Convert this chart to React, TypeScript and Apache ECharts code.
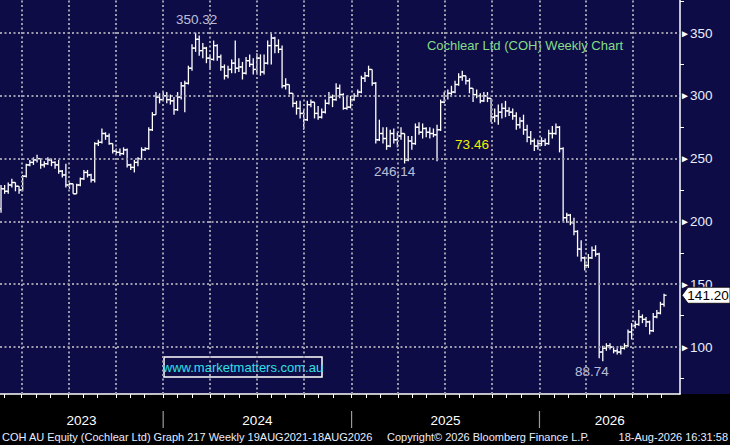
import { useEffect, useRef } from "react";
import * as echarts from "echarts";

const DAY = 86400000;
const FIRST_WEEK = Date.UTC(2023, 1, 20);
const AXIS_MIN = Date.UTC(2023, 1, 18);
const AXIS_MAX = Date.UTC(2026, 9, 1);
const PRICE_MIN = 62.6;
const PRICE_MAX = 376.3;

const opens = [
  210, 226, 224, 229, 231, 228, 225, 236, 245, 247,
  249, 250, 245, 246, 249, 247, 245, 240, 237, 229,
  230, 222, 229, 234, 239, 237, 233, 262, 263, 270,
  268, 262, 256, 255, 254, 257, 245, 243, 247, 250,
  257, 258, 273, 285, 299, 297, 300, 297, 296, 289,
  299, 308, 310, 322, 338, 345, 336, 338, 330, 329,
  340, 331, 323, 316, 321, 326, 322, 323, 318, 328,
  325, 321, 330, 319, 326, 340, 346, 340, 337, 308,
  309, 302, 294, 290, 286, 281, 293, 295, 286, 283,
  287, 294, 299, 297, 306, 301, 290, 291, 297, 300,
  303, 314, 316, 321, 310, 265, 270, 266, 260, 270,
  265, 268, 270, 249, 264, 262, 275, 271, 274, 271,
  270, 269, 273, 295, 300, 302, 303, 309, 315, 316,
  312, 306, 301, 300, 296, 300, 298, 283, 284, 287,
  290, 288, 287, 284, 277, 280, 273, 267, 264, 260,
  262, 264, 262, 270, 270, 275, 258, 203, 205, 199,
  192, 178, 171, 165, 171, 177, 174, 96, 99, 101,
  100, 97, 96, 99, 101, 112, 117, 118, 124, 122,
  120, 113, 124, 127, 134,
];
const highs = [
  229, 229, 231, 234, 231, 228, 237, 246, 249, 251,
  253, 250, 248, 251, 250, 248, 249, 241, 246, 231,
  230, 230, 235, 241, 241, 238, 263, 265, 274, 271,
  270, 262, 258, 258, 259, 258, 246, 249, 251, 259,
  259, 275, 287, 303, 302, 303, 303, 301, 299, 303,
  311, 312, 324, 341, 350.32, 348, 342, 339, 333, 344,
  341, 333, 325, 324, 329, 344, 330, 327, 331, 333,
  330, 334, 333, 333, 344, 349.5, 347, 345, 340, 314,
  309, 302, 296, 296, 289, 296, 297, 295, 292, 290,
  297, 303, 301, 310, 309, 302, 300, 300, 302, 305,
  316, 319, 324, 321, 311, 281, 275, 275, 273, 274,
  271, 275, 270, 268, 268, 278, 279, 278, 275, 275,
  274, 277, 297, 303, 305, 308, 312, 318, 320, 316,
  314, 306, 305, 302, 303, 303, 298, 290, 293, 294,
  296, 291, 290, 287, 283, 285, 277, 272, 266, 265,
  267, 266, 273, 276, 278, 276, 259, 207, 206, 203,
  193, 185, 172, 174, 180, 181, 175, 101, 103, 103,
  100, 99, 101, 103, 114, 119, 121, 129.5, 126, 124,
  121, 127, 129.5, 136, 142.5,
];
const lows = [
  207, 222, 222, 227, 224, 222, 224, 235, 244, 245,
  247, 242, 243, 245, 244, 242, 238, 235, 227, 226,
  222, 222, 228, 233, 235, 231, 231, 260, 262, 265,
  261, 254, 253, 252, 253, 243, 241, 239, 244, 249,
  256, 257, 272, 285, 294, 296, 294, 293, 285, 288,
  297, 287, 309, 320, 335, 332, 330, 326, 322, 328,
  328, 320, 313, 314, 318, 318, 319, 313, 317, 323,
  317, 317, 316, 317, 325, 325, 334, 334, 306, 305,
  301, 291, 285, 282, 273, 280, 291, 282, 281, 282,
  286, 293, 291, 296, 298, 289, 289, 290, 296, 299,
  302, 311, 315, 308, 262, 264, 262, 257, 259, 262,
  259, 265, 246.14, 248, 257, 261, 269, 266, 267, 266,
  267, 248, 272, 294, 297, 299, 302, 308, 312, 309,
  302, 295, 298, 294, 295, 295, 279, 279, 277, 282,
  283, 284, 281, 273, 274, 269, 263, 261, 256, 257,
  260, 260, 261, 266, 269, 255, 200, 199, 197, 189,
  172, 168, 161, 163, 170, 172, 91, 88.74, 97, 98,
  95, 94, 94, 98, 100, 106, 115, 117, 119, 116,
  110, 112, 123, 126, 132,
];
const closes = [
  226, 224, 229, 231, 228, 225, 236, 245, 247, 249,
  250, 245, 246, 249, 247, 245, 240, 237, 229, 230,
  222, 229, 234, 239, 237, 233, 262, 263, 270, 268,
  262, 256, 255, 254, 257, 245, 243, 247, 250, 257,
  258, 273, 285, 299, 297, 300, 297, 296, 289, 299,
  308, 310, 322, 338, 345, 336, 338, 330, 329, 340,
  331, 323, 316, 321, 326, 322, 323, 318, 328, 325,
  321, 330, 319, 326, 340, 346, 340, 337, 308, 309,
  302, 294, 290, 286, 281, 293, 295, 286, 283, 287,
  294, 299, 297, 306, 301, 290, 291, 297, 300, 303,
  314, 316, 321, 310, 265, 270, 266, 260, 270, 265,
  268, 270, 249, 264, 262, 275, 271, 274, 271, 270,
  269, 273, 295, 300, 302, 303, 309, 315, 316, 312,
  306, 301, 300, 296, 300, 298, 283, 284, 287, 290,
  288, 287, 284, 277, 280, 273, 267, 264, 260, 262,
  264, 262, 270, 270, 275, 258, 203, 205, 199, 192,
  178, 171, 165, 171, 177, 174, 96, 99, 101, 100,
  97, 96, 99, 101, 112, 117, 118, 124, 122, 120,
  113, 124, 127, 134, 141.2,
];

const weeks = opens.map((_, i) => FIRST_WEEK + i * 7 * DAY);

const priceLabels = [100, 150, 200, 250, 300, 350];
const priceMinorTicks = [75, 125, 175, 225, 275, 325, 375];
const quarterStarts = [
  "2023-01-01", "2023-04-01", "2023-07-01", "2023-10-01",
  "2024-01-01", "2024-04-01", "2024-07-01", "2024-10-01",
  "2025-01-01", "2025-04-01", "2025-07-01", "2025-10-01",
  "2026-01-01", "2026-04-01", "2026-07-01",
];
const years = [2023, 2024, 2025, 2026];

const peakIdx = 54;
const lowIdx1 = 112;
const lowIdx2 = 167;

const NAVY = "#0e0c46";
const GRIDC = "#9b9bab";
const TXT = "#e8eeff";
const FONT = "Liberation Sans, Arial, sans-serif";

export default function App() {
  const ref = useRef<HTMLDivElement>(null);
  useEffect(() => {
    if (!ref.current) return;
    const chart = echarts.init(ref.current, undefined, { renderer: "svg" });
    const qTs = quarterStarts.map((s) => Date.parse(s + "T00:00:00Z"));
    const monthTicks: number[] = [];
    qTs.forEach((q) => {
      [0, 28, 56].forEach((d) => {
        const t = q + d * DAY;
        if (t > AXIS_MIN && t < AXIS_MAX) monthTicks.push(t);
      });
    });
    const gridLines = [
      ...qTs.filter((t) => t > AXIS_MIN && t < AXIS_MAX).map((t) => ({ xAxis: t })),
      ...priceLabels.map((v) => ({ yAxis: v })),
    ];
    const ohlc = weeks.map((t, i) => [t, opens[i], highs[i], lows[i], closes[i]]);

    chart.setOption({
      animation: false,
      backgroundColor: "#000000",
      grid: {
        left: 0,
        right: 50,
        top: 0,
        bottom: 51,
        show: true,
        backgroundColor: NAVY,
        borderWidth: 0,
      },
      xAxis: {
        type: "time",
        min: AXIS_MIN,
        max: AXIS_MAX,
        axisLine: { show: true, lineStyle: { color: "#ffffff", width: 1.5 } },
        axisTick: {
          show: true,
          length: 4,
          lineStyle: { color: "#ffffff", width: 1 },
          customValues: monthTicks,
        },
        axisLabel: { show: false },
        splitLine: { show: false },
        minorTick: { show: false },
      },
      yAxis: {
        type: "value",
        position: "right",
        min: PRICE_MIN,
        max: PRICE_MAX,
        axisLine: { show: true, lineStyle: { color: "#ffffff", width: 1.5 } },
        axisTick: {
          show: true,
          length: 4,
          inside: false,
          lineStyle: { color: "#ffffff", width: 1 },
          customValues: priceMinorTicks,
        },
        axisLabel: {
          show: true,
          margin: 0,
          customValues: priceLabels,
          formatter: (v: number) => `{a|►}{b|${v}}`,
          rich: {
            a: { fontSize: 10, color: "#ffffff", fontFamily: FONT, padding: [0, 0, 0, 0] },
            b: { fontSize: 13.5, color: TXT, fontFamily: FONT },
          },
        },
        splitLine: { show: false },
      },
      series: [
        {
          type: "line",
          data: [],
          silent: true,
          z: 1,
          markLine: {
            silent: true,
            symbol: ["none", "none"],
            label: { show: false },
            lineStyle: { color: GRIDC, width: 2, type: [2, 2.5] },
            data: gridLines,
          },
        },
        {
          type: "custom",
          z: 3,
          clip: true,
          encode: { x: 0, y: [1, 2, 3, 4] },
          data: ohlc,
          renderItem: (params: any, api: any) => {
            const t = api.value(0);
            const pO = api.coord([t, api.value(1)]);
            const pH = api.coord([t, api.value(2)]);
            const pL = api.coord([t, api.value(3)]);
            const pC = api.coord([t, api.value(4)]);
            const st = { stroke: "#ffffff", lineWidth: 1.3 };
            const w = 2.5;
            return {
              type: "group",
              children: [
                { type: "line", shape: { x1: pH[0], y1: pH[1], x2: pL[0], y2: pL[1] }, style: st },
                { type: "line", shape: { x1: pO[0] - w, y1: pO[1], x2: pO[0], y2: pO[1] }, style: st },
                { type: "line", shape: { x1: pC[0], y1: pC[1], x2: pC[0] + w, y2: pC[1] }, style: st },
              ],
            };
          },
        },
        {
          type: "scatter",
          symbolSize: 0,
          silent: true,
          z: 4,
          data: [
            {
              value: [weeks[peakIdx], highs[peakIdx]],
              label: { show: true, position: "top", distance: 6, offset: [1, 0], formatter: String(highs[peakIdx]) },
            },
            {
              value: [weeks[lowIdx1], lows[lowIdx1]],
              label: { show: true, position: "bottom", distance: 1, offset: [-10, 0], formatter: String(lows[lowIdx1]) },
            },
            {
              value: [weeks[lowIdx2], lows[lowIdx2]],
              label: { show: true, position: "bottom", distance: 3, offset: [-11, 0], formatter: String(lows[lowIdx2]) },
            },
          ],
          label: { color: TXT, fontSize: 13.5, fontFamily: FONT },
        },
      ],
    });

    const px = (t: number) => chart.convertToPixel({ xAxisIndex: 0 } as any, t) as number;
    const py = (v: number) => chart.convertToPixel({ yAxisIndex: 0 } as any, v) as number;
    const xL = px(AXIS_MIN);
    const xR = px(AXIS_MAX);
    const yB = py(PRICE_MIN);
    const lastClose = closes[closes.length - 1];
    const yTag = py(lastClose);

    const graphics: any[] = [
      { type: "rect", z: -10, shape: { x: xR, y: 0, width: 730 - xR, height: yB }, style: { fill: NAVY } },
    ];
    years.forEach((y) => {
      const s = Math.max(AXIS_MIN, Date.UTC(y, 0, 1));
      const e = Math.min(AXIS_MAX, Date.UTC(y + 1, 0, 1));
      const cx = (px(s) + px(e)) / 2;
      graphics.push({
        type: "text",
        x: cx,
        y: yB + 26,
        style: { text: String(y), fill: "#ffffff", font: `13.5px ${FONT}`, align: "center", verticalAlign: "middle" },
      });
      const b = Date.UTC(y, 0, 1);
      if (b > AXIS_MIN && b < AXIS_MAX) {
        graphics.push({
          type: "line",
          shape: { x1: px(b), y1: yB + 17, x2: px(b), y2: yB + 34 },
          style: { stroke: "#9a9a9a", lineWidth: 1.2 },
        });
      }
    });
    graphics.push(
      {
        type: "text",
        x: 2,
        y: 437,
        style: { text: "COH AU Equity (Cochlear Ltd) Graph 217 Weekly 19AUG2021-18AUG2026", fill: TXT, font: `11px ${FONT}`, verticalAlign: "middle" },
      },
      {
        type: "text",
        x: 387,
        y: 437,
        style: { text: "Copyright© 2026 Bloomberg Finance L.P.", fill: TXT, font: `11px ${FONT}`, verticalAlign: "middle" },
      },
      {
        type: "text",
        x: 728,
        y: 437,
        style: { text: "18-Aug-2026 16:31:58", fill: TXT, font: `11px ${FONT}`, align: "right", verticalAlign: "middle" },
      },
      {
        type: "text",
        x: 525,
        y: 45,
        style: { text: "Cochlear Ltd (COH) Weekly Chart", fill: "#86dc86", font: `13px ${FONT}`, align: "center", verticalAlign: "middle" },
      },
      {
        type: "text",
        x: 472,
        y: 144,
        style: { text: "73.46", fill: "#f0f000", font: `13.5px ${FONT}`, align: "center", verticalAlign: "middle" },
      },
      {
        type: "rect",
        shape: { x: 164, y: 357, width: 158, height: 20 },
        style: { fill: NAVY, stroke: "#ffffff", lineWidth: 1.5 },
      },
      {
        type: "text",
        x: 243,
        y: 367.5,
        style: { text: "www.marketmatters.com.au", fill: "#2fe0e8", font: `13px ${FONT}`, align: "center", verticalAlign: "middle" },
      },
      {
        type: "polygon",
        z: 10,
        shape: {
          points: [
            [xR + 2, yTag],
            [xR + 8, yTag - 8],
            [730, yTag - 8],
            [730, yTag + 8],
            [xR + 8, yTag + 8],
          ],
        },
        style: { fill: "#ffffff", stroke: "#000000", lineWidth: 0.8 },
      },
      {
        type: "text",
        z: 11,
        x: xR + 28,
        y: yTag,
        style: { text: lastClose.toFixed(2), fill: "#000000", font: `13.5px ${FONT}`, align: "center", verticalAlign: "middle" },
      }
    );
    chart.setOption({ graphic: graphics });

    return () => chart.dispose();
  }, []);
  return (
    <div
      ref={ref}
      style={{ position: "fixed", left: 0, top: 0, width: 730, height: 445 }}
    />
  );
}
